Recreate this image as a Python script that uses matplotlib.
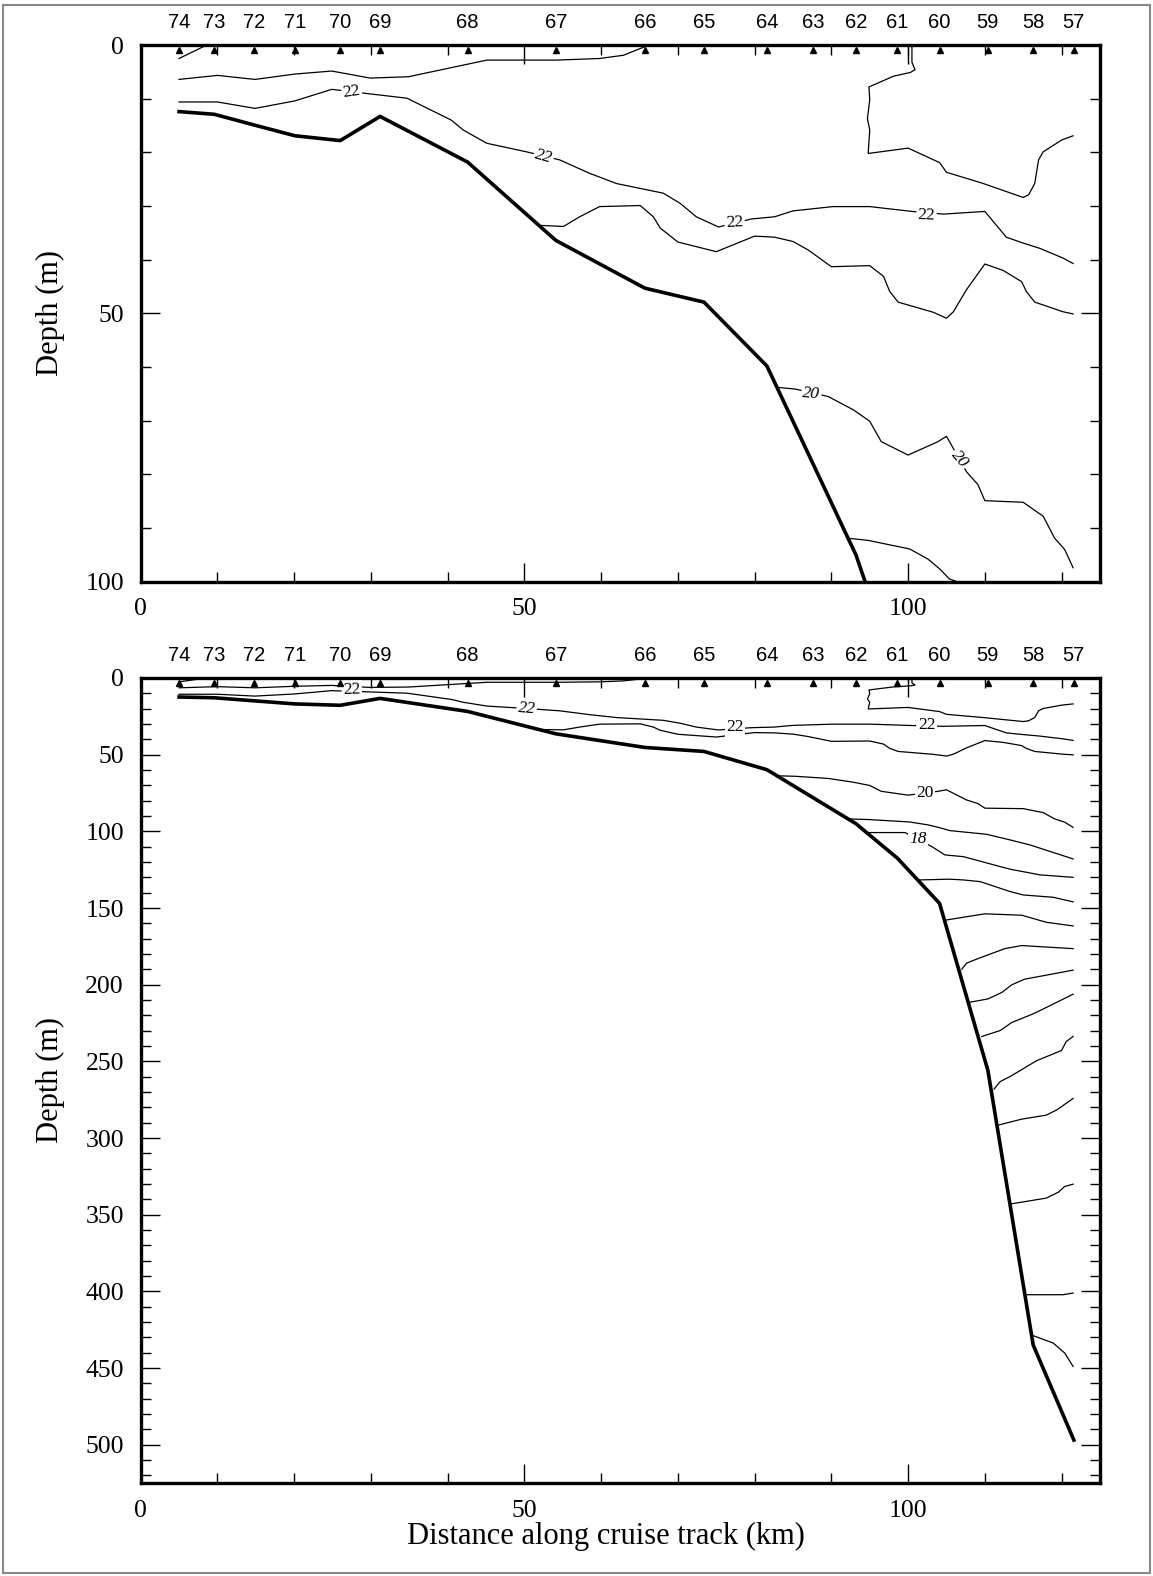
import matplotlib
matplotlib.use('Agg')
import matplotlib.pyplot as plt
from matplotlib.ticker import MultipleLocator
from matplotlib.transforms import ScaledTranslation, blended_transform_factory
from matplotlib.patches import Rectangle

# stations along the track (km) and bottom depth (m)
station_names = ['74', '73', '72', '71', '70', '69', '68', '67', '66', '65',
                 '64', '63', '62', '61', '60', '59', '58', '57']
station_km = [5.0, 9.6, 14.8, 20.1, 26.0, 31.2, 42.6, 54.1, 65.7, 73.4,
              81.6, 87.6, 93.2, 98.6, 104.1, 110.4, 116.3, 121.6]
bottom_depth = [12.4, 12.9, 14.9, 16.9, 17.8, 13.3, 21.8, 36.4, 45.3, 47.9,
                59.8, 78.0, 95.0, 117.5, 147.0, 256.0, 435.0, 497.0]

iso_a_x = [5.0, 8.6]
iso_a_d = [2.5, 0.0]
iso_b_x = [5.0, 10.0, 14.9, 20.1, 24.9, 29.9, 34.9, 45.1, 54.2, 59.8, 62.9, 65.7]
iso_b_d = [6.4, 5.65, 6.4, 5.4, 4.84, 6.15, 5.9, 2.8, 2.8, 2.5, 1.9, 0.3]
iso_c_x = [5.0, 10.0, 14.9, 20.1, 24.9, 29.9, 34.7, 40.5, 42.0, 45.1, 50.3, 54.6,
           58.5, 62.0, 68.1, 70.3, 72.4, 75.3, 79.6, 82.6, 85.0, 90.2, 95.0,
           100.5, 104.6, 110.0, 112.8, 115.0, 117.2, 120.2, 121.5]
iso_c_d = [10.6, 10.6, 11.8, 10.4, 8.25, 9.1, 9.9, 14.0, 15.8, 18.3, 19.9, 21.4,
           23.9, 25.8, 27.6, 29.5, 32.0, 33.9, 32.4, 32.0, 30.9, 30.1, 30.1,
           31.0, 31.5, 31.0, 35.8, 36.9, 37.9, 39.7, 40.7]
iso_d_x = [52.0, 55.1, 57.2, 59.8, 65.1, 66.8, 67.7, 70.0, 75.0, 80.0, 82.6, 85.0,
           87.0, 90.0, 95.0, 96.8, 97.6, 98.7, 103.3, 105.0, 105.9, 107.6, 110.0,
           112.4, 114.8, 115.4, 116.5, 120.2, 121.5]
iso_d_d = [33.6, 33.8, 32.0, 30.1, 29.9, 32.0, 34.1, 36.7, 38.5, 35.6, 35.8, 36.6,
           38.2, 41.3, 41.1, 43.1, 45.9, 47.9, 49.8, 50.9, 49.7, 45.6, 40.8,
           42.0, 44.1, 45.9, 47.9, 49.7, 50.1]
iso_e0_x = [100.0, 100.0]
iso_e0_d = [0.0, 1.9]
iso_e_x = [100.5, 100.5, 100.9, 100.3, 98.1, 94.9, 95.0, 94.7, 95.0, 94.8, 100.0,
           104.1, 105.0, 109.8, 115.0, 115.7, 116.5, 117.0, 117.6, 120.0, 121.5]
iso_e_d = [0.0, 3.2, 4.6, 5.1, 5.8, 7.8, 10.2, 13.7, 15.8, 20.2, 19.2,
           21.9, 23.7, 25.8, 28.4, 27.9, 25.8, 21.4, 19.9, 17.7, 16.9]
iso_20_x = [83.1, 85.3, 89.6, 92.9, 95.0, 96.5, 100.0, 103.9, 105.0, 107.6,
            109.1, 110.0, 115.0, 117.6, 119.1, 120.4, 121.5]
iso_20_d = [63.8, 64.1, 65.5, 68.0, 70.1, 73.9, 76.4, 73.9, 72.9, 79.5,
            81.9, 84.9, 85.2, 87.8, 91.9, 94.0, 97.4]
iso_f_x = [92.2, 94.8, 100.2, 102.6, 104.1, 105.4, 110.2, 113.3, 115.9, 121.5]
iso_f_d = [91.9, 92.3, 93.9, 95.8, 97.6, 99.5, 101.9, 105.6, 108.9, 118.0]
iso_18_x = [94.8, 99.6, 103.1, 104.8, 107.2, 112.0, 113.3, 117.2, 121.5]
iso_18_d = [100.8, 100.8, 110.0, 115.4, 116.5, 123.0, 124.7, 128.4, 130.0]
iso_h_x = [101.5, 105.4, 107.2, 109.4, 113.3, 115.0, 118.9, 121.5]
iso_h_d = [131.7, 131.2, 131.7, 132.8, 139.3, 141.5, 143.0, 146.0]
iso_i_x = [105.0, 110.0, 114.8, 118.0, 121.5]
iso_i_d = [157.8, 153.8, 154.7, 159.3, 161.7]
iso_j_x = [107.0, 107.6, 109.1, 112.6, 114.8, 121.5]
iso_j_d = [189.9, 186.0, 183.0, 176.5, 174.5, 176.5]
iso_k_x = [108.1, 110.4, 112.2, 113.5, 115.2, 119.4, 121.5]
iso_k_d = [211.4, 209.3, 205.1, 200.1, 196.4, 192.5, 190.5]
iso_l_x = [109.6, 112.0, 113.5, 116.3, 118.0, 121.5]
iso_l_d = [233.8, 229.9, 224.7, 219.0, 214.9, 206.2]
iso_m_x = [111.2, 112.0, 113.3, 116.7, 120.0, 120.6, 121.5]
iso_m_d = [268.1, 263.2, 259.9, 249.7, 242.9, 237.1, 233.8]
iso_n_x = [111.9, 114.8, 118.0, 119.4, 121.5]
iso_n_d = [291.4, 287.7, 285.1, 281.6, 274.2]
iso_o_x = [113.5, 118.0, 119.6, 120.4, 121.5]
iso_o_d = [342.9, 339.2, 335.3, 331.6, 330.1]
iso_p_x = [115.4, 120.2, 121.5]
iso_p_d = [402.2, 402.2, 401.1]
iso_q_x = [116.3, 118.9, 120.4, 121.5]
iso_q_d = [428.9, 433.7, 440.2, 449.0]

isotherms = [(iso_a_x, iso_a_d), (iso_b_x, iso_b_d), (iso_c_x, iso_c_d),
             (iso_d_x, iso_d_d), (iso_e0_x, iso_e0_d), (iso_e_x, iso_e_d),
             (iso_20_x, iso_20_d), (iso_f_x, iso_f_d), (iso_18_x, iso_18_d),
             (iso_h_x, iso_h_d), (iso_i_x, iso_i_d), (iso_j_x, iso_j_d),
             (iso_k_x, iso_k_d), (iso_l_x, iso_l_d), (iso_m_x, iso_m_d),
             (iso_n_x, iso_n_d), (iso_o_x, iso_o_d), (iso_p_x, iso_p_d),
             (iso_q_x, iso_q_d)]

# contour labels: text, km, depth, rotation, italic
top_labels = [('22', 27.5, 8.7, 8, False), ('22', 52.5, 20.8, -16, True),
              ('22', 77.4, 33.1, 3, False), ('22', 102.4, 31.7, -2, False),
              ('20', 87.4, 65.0, -5, True), ('20', 106.7, 77.2, -50, True)]
bottom_labels = [('22', 27.5, 7.8, 2, False), ('22', 50.3, 19.8, -4, True),
                 ('22', 77.4, 32.2, 0, False), ('22', 102.4, 30.6, 0, False),
                 ('20', 102.2, 74.7, 0, False), ('18', 101.3, 105.0, 0, True)]

serif = 'Liberation Serif'
sans = 'Liberation Sans'

fig = plt.figure(figsize=(11.53, 15.76), dpi=100)
ax1 = fig.add_axes([0.122, 0.6309, 0.832, 0.3405])
ax2 = fig.add_axes([0.122, 0.059, 0.832, 0.5108])


def draw_panel(ax, ymax, ymajor, labels):
    for cx, cd in isotherms:
        ax.plot(cx, cd, color='k', lw=0.9)
    ax.plot(station_km, bottom_depth, color='k', lw=2.6, solid_joinstyle='miter')
    shift = ScaledTranslation(0, -3.5 / 72, fig.dpi_scale_trans)
    ax.plot(station_km, [0] * len(station_km), '^', color='k', ms=5,
            transform=ax.transData + shift, clip_on=False, zorder=5)
    trans = blended_transform_factory(ax.transData, ax.transAxes)
    for name, x in zip(station_names, station_km):
        ax.annotate(name, xy=(x, 1), xycoords=trans, xytext=(0, 16),
                    textcoords='offset points', ha='center', va='center',
                    fontsize=14.5, family=sans)
    for txt, x, d, rot, ital in labels:
        ax.text(x, d, txt, ha='center', va='center', rotation=rot,
                fontsize=12.5, family=serif, style='italic' if ital else 'normal',
                bbox=dict(facecolor='white', edgecolor='none', pad=1.0), zorder=4)
    ax.set_xlim(0, 125)
    ax.set_ylim(ymax, 0)
    ax.xaxis.set_major_locator(MultipleLocator(50))
    ax.xaxis.set_minor_locator(MultipleLocator(10))
    ax.yaxis.set_major_locator(MultipleLocator(ymajor))
    ax.yaxis.set_minor_locator(MultipleLocator(10))
    ax.tick_params(which='both', direction='in', top=True, right=True,
                   labeltop=False, labelright=False, width=1.0)
    ax.tick_params(which='major', length=14, pad=12, labelsize=18.5)
    ax.tick_params(which='minor', length=7)
    for lab in ax.get_xticklabels() + ax.get_yticklabels():
        lab.set_fontfamily(serif)
    for sp in ax.spines.values():
        sp.set_linewidth(2.4)


draw_panel(ax1, 100, 50, top_labels)
draw_panel(ax2, 525, 50, bottom_labels)

fig.text(50 / 1153, 1 - 313 / 1576, 'Depth (m)', rotation=90, ha='center',
         va='center', fontsize=22, family=serif)
fig.text(50 / 1153, 1 - 1080 / 1576, 'Depth (m)', rotation=90, ha='center',
         va='center', fontsize=22, family=serif)
fig.text(606 / 1153, 1 - 1536 / 1576, 'Distance along cruise track (km)',
         ha='center', va='center', fontsize=22, family=serif)

fig.add_artist(Rectangle((0.003, 0.002), 0.994, 0.995, transform=fig.transFigure,
                         fill=False, edgecolor='#888888', lw=1.5))

fig.savefig('out.png', dpi=100)
